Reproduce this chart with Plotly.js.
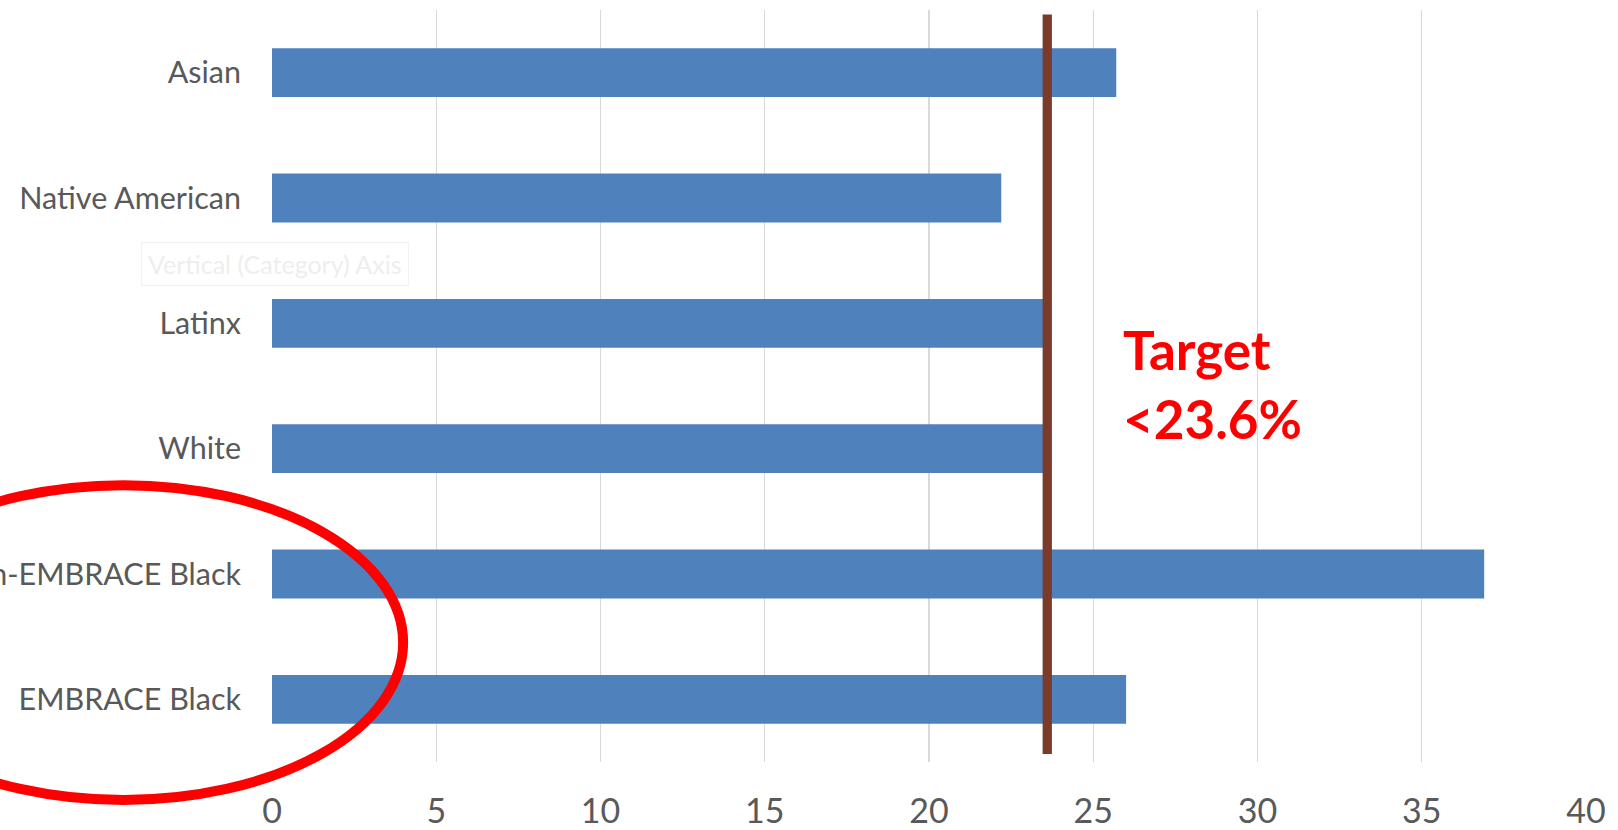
<!DOCTYPE html>
<html>
<head>
<meta charset="utf-8">
<script src="https://cdn.plot.ly/plotly-3.0.1.min.js"></script>
<style>
  html, body { margin: 0; padding: 0; background: #ffffff; }
  #chart { width: 1618px; height: 830px; }
</style>
</head>
<body>
<div id="chart"></div>
<script>
// Share of each group, in percent, top to bottom
const categories = ['Asian', 'Native American', 'Latinx', 'White', 'Non-EMBRACE Black', 'EMBRACE Black'];
const values = [25.7, 22.2, 23.6, 23.6, 36.9, 26.0];

// Value axis ticks
const xTicks = [0, 5, 10, 15, 20, 25, 30, 35, 40];

// Target threshold and its label
const targetValue = 23.6;
const targetLabel = ['Target', '&lt;' + targetValue + '%'];

const textGray = '#595959';
const gridGray = '#D9D9D9';

const trace = {
  type: 'bar',
  orientation: 'h',
  y: categories,
  x: values,
  width: 0.39,
  marker: { color: '#4F81BD', line: { width: 0 } },
  hoverinfo: 'x+y'
};

const layout = {
  width: 1618,
  height: 830,
  margin: { l: 271.5, r: 31.5, t: 9.5, b: 68, pad: 0 },
  paper_bgcolor: '#ffffff',
  plot_bgcolor: '#ffffff',
  showlegend: false,
  font: { family: 'Lato, "Open Sans", sans-serif', color: textGray },
  xaxis: {
    range: [0, 40],
    tickvals: xTicks,
    ticktext: xTicks.map(String),
    showgrid: true,
    gridcolor: gridGray,
    gridwidth: 1.3,
    zeroline: false,
    showline: false,
    ticks: '',
    ticklabelstandoff: 26,
    tickfont: { size: 34, color: textGray, family: 'Lato, sans-serif' },
    fixedrange: true
  },
  yaxis: {
    type: 'category',
    categoryorder: 'array',
    categoryarray: categories,
    range: [5.5, -0.5],
    showgrid: false,
    zeroline: false,
    showline: false,
    ticks: '',
    ticklabelstandoff: 30,
    tickfont: { size: 30.5, color: textGray, family: 'Lato, sans-serif' },
    automargin: false,
    fixedrange: true
  },
  shapes: [
    // Target line
    {
      type: 'line', xref: 'x', yref: 'paper',
      x0: targetValue, x1: targetValue, y0: 0.0106, y1: 0.994,
      line: { color: '#7A3B2B', width: 9.3 },
      layer: 'above'
    },
    // Highlight around the two Black groups
    {
      type: 'circle', xref: 'paper', yref: 'paper',
      x0: -0.3259, x1: 0.0998, y0: -0.0505, y1: 0.3681,
      line: { color: '#FF0000', width: 10 },
      fillcolor: 'rgba(0,0,0,0)',
      layer: 'above'
    }
  ],
  annotations: [
    {
      xref: 'x', yref: 'paper',
      x: 25.84, y: 0.503,
      xanchor: 'left', yanchor: 'middle',
      text: '<b>' + targetLabel.join('<br>') + '</b>',
      align: 'left',
      showarrow: false,
      font: { family: 'Lato, sans-serif', size: 53, color: '#FF0000' }
    },
    {
      xref: 'paper', yref: 'paper',
      x: 0.002, y: 0.662,
      xanchor: 'center', yanchor: 'middle',
      text: 'Vertical (Category) Axis',
      showarrow: false,
      bgcolor: 'rgba(255,255,255,0)',
      bordercolor: '#F2F2F2',
      borderwidth: 1,
      borderpad: 6,
      font: { family: 'Lato, sans-serif', size: 25, color: '#EEEEEE' }
    }
  ]
};

Plotly.newPlot('chart', [trace], layout, { displayModeBar: false, staticPlot: true });
</script>
</body>
</html>
